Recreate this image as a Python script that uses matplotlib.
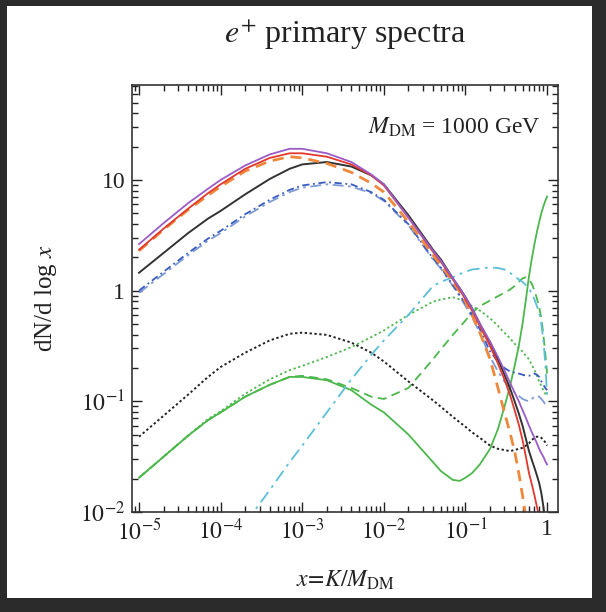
import numpy as np
import matplotlib
matplotlib.use("Agg")
import matplotlib.pyplot as plt
from matplotlib.patches import Rectangle
from matplotlib.ticker import LogLocator, FuncFormatter, NullFormatter

plt.rcParams['font.family'] = ['Liberation Serif', 'DejaVu Serif']
plt.rcParams['mathtext.fontset'] = 'stix'

nan = np.nan
x = [1e-5, 2e-5, 4e-5, 7e-5, 1e-4, 2e-4, 4e-4, 7e-4, 1e-3, 2e-3, 4e-3, 7e-3,
     1e-2, 2e-2, 4e-2, 5e-2, 7e-2, 8.5e-2, 0.1, 0.12, 0.15, 0.2, 0.25, 0.3,
     0.35, 0.4, 0.45, 0.5, 0.55, 0.6, 0.65, 0.7, 0.75, 0.8, 0.85, 0.9, 0.95, 1.0]

purple = [2.63, 4.07, 6.17, 8.32, 10.0, 13.5, 17.0, 19.1, 19.1, 17.4, 14.5, 11.2,
          9.12, 4.57, 2.29, 1.86, 1.29, 1.05, 0.871, 0.692, 0.501, 0.347, 0.251, 0.191,
          0.148, 0.120, 0.100, 0.0832, 0.0708, 0.0603, 0.0525, 0.0468, 0.0417, 0.0372,
          0.0339, 0.0316, 0.0288, 0.0269]
red = [2.34, 3.63, 5.50, 7.59, 9.12, 12.6, 15.8, 17.4, 17.4, 16.2, 13.8, 11.0,
       8.91, 4.57, 2.24, 1.82, 1.26, 1.02, 0.832, 0.661, 0.479, 0.316, 0.219, 0.158,
       0.115, 0.0832, 0.0617, 0.0447, 0.0316, 0.0224, 0.0178, 0.0141, 0.0112, 0.0089,
       nan, nan, nan, nan]
orange = [2.29, 3.55, 5.37, 7.24, 8.71, 12.0, 14.8, 16.2, 15.8, 14.1, 11.7, 9.33,
          7.76, 4.17, 2.09, 1.70, 1.20, 0.977, 0.794, 0.603, 0.417, 0.240, 0.132, 0.0794,
          0.0525, 0.0355, 0.0224, 0.0141, 0.0089, 0.005, nan, nan, nan, nan,
          nan, nan, nan, nan]
black = [1.45, 2.19, 3.31, 4.47, 5.25, 7.41, 10.2, 12.6, 13.8, 14.5, 13.2, 11.0,
         9.12, 4.79, 2.34, 1.91, 1.29, 1.05, 0.871, 0.692, 0.501, 0.339, 0.240, 0.174,
         0.132, 0.100, 0.0776, 0.0603, 0.0457, 0.0355, 0.0295, 0.0251, 0.0214, 0.0182,
         0.0148, 0.0112, 0.0079, 0.005]
blue1 = [1.0, 1.48, 2.19, 2.95, 3.47, 4.90, 6.61, 8.13, 8.91, 9.55, 9.12, 7.76,
         6.61, 3.98, 1.95, 1.62, 1.12, 0.912, 0.759, 0.603, 0.447, 0.282, 0.229, 0.200,
         0.186, 0.182, 0.178, 0.174, 0.170, 0.170, 0.174, 0.178, 0.174, 0.166,
         0.151, 0.141, 0.132, 0.126]
blue2 = [0.955, 1.41, 2.09, 2.82, 3.31, 4.68, 6.31, 7.76, 8.51, 9.12, 8.71, 7.59,
         6.46, 3.89, 1.91, 1.58, 1.10, 0.891, 0.724, 0.575, 0.417, 0.251, 0.186, 0.151,
         0.132, 0.120, 0.112, 0.105, 0.102, 0.100, 0.105, 0.110, 0.112, 0.110,
         0.105, 0.100, 0.0933, 0.0891]
black_dot = [0.0479, 0.0741, 0.115, 0.166, 0.204, 0.275, 0.355, 0.407, 0.417, 0.398,
             0.339, 0.275, 0.229, 0.151, 0.102, 0.0891, 0.0724, 0.0646, 0.0589, 0.0525,
             0.0468, 0.0398, 0.0372, 0.0363, 0.0355, 0.0363, 0.0372, 0.0380, 0.0398,
             0.0417, 0.0447, 0.0468, 0.0479, 0.0479, 0.0468, 0.0447, 0.0427, 0.0398]
green = [0.0204, 0.0316, 0.0490, 0.0676, 0.0794, 0.110, 0.141, 0.166, 0.166, 0.155,
         0.126, 0.0933, 0.0794, 0.0501, 0.0282, 0.0234, 0.0195, 0.0191, 0.0204, 0.0224,
         0.0269, 0.0372, 0.0562, 0.0891, 0.135, 0.209, 0.316, 0.501, 0.832, 1.35,
         1.95, 2.63, 3.39, 4.17, 5.01, 5.75, 6.46, 7.08]
green_dot = [0.0204, 0.0316, 0.0490, 0.0692, 0.0813, 0.117, 0.158, 0.191, 0.209, 0.251,
             0.309, 0.380, 0.437, 0.603, 0.794, 0.832, 0.871, 0.832, 0.794, 0.724,
             0.661, 0.562, 0.479, 0.417, 0.372, 0.331, 0.302, 0.282, 0.257, 0.240,
             0.214, 0.191, 0.170, 0.151, 0.138, 0.126, 0.117, 0.110]
green_dash = [0.0204, 0.0316, 0.0490, 0.0676, 0.0794, 0.110, 0.141, 0.166, 0.170, 0.158,
              0.132, 0.110, 0.105, 0.132, 0.240, 0.295, 0.398, 0.468, 0.537, 0.631,
              0.724, 0.813, 0.891, 0.955, 1.02, 1.10, 1.20, 1.29, 1.32, 1.26,
              1.15, 1.0, 0.851, 0.708, 0.562, 0.398, 0.269, 0.178]
cyan = [nan, nan, nan, nan, nan, 0.0079, 0.0158, 0.0282, 0.0398, 0.0794, 0.158, 0.263,
        0.355, 0.603, 1.10, 1.20, 1.32, 1.41, 1.48, 1.55, 1.58, 1.62, 1.60, 1.55,
        1.45, 1.35, 1.26, 1.20, 1.12, 1.05, 0.933, 0.832, 0.724, 0.631,
        0.501, 0.355, 0.224, 0.112]

fig = plt.figure(figsize=(6.06, 6.12), dpi=100)
fig.patch.set_facecolor('#2b2b2b')
fig.add_artist(Rectangle((7 / 606, 14 / 612), 585 / 606, 592 / 612,
                         transform=fig.transFigure, facecolor='white',
                         edgecolor='none', zorder=0))

ax = fig.add_axes([132 / 606, 1 - 512 / 612, 426 / 606, 427 / 612])

ax.plot(x, green, color='#4cb84c', lw=1.3)
ax.plot(x, green_dot, color='#4cb84c', lw=1.3, ls=(0, (1.2, 1.5)))
ax.plot(x, green_dash, color='#4cb84c', lw=1.3, ls=(0, (5, 3)))
ax.plot(x, cyan, color='#5bbfd8', lw=1.3, ls=(0, (7, 3, 1.5, 3)))
ax.plot(x, black_dot, color='#222222', lw=1.4, ls=(0, (1.2, 1.3)))
ax.plot(x, blue2, color='#7f9bd6', lw=1.3, ls=(0, (6, 2.5, 1.5, 2.5)))
ax.plot(x, blue1, color='#3a5bbf', lw=1.3, ls=(0, (4, 2, 1, 2)))
ax.plot(x, black, color='#333333', lw=1.4)
ax.plot(x, orange, color='#f0883c', lw=2.0, ls=(0, (4, 2.5)))
ax.plot(x, red, color='#e2382e', lw=1.3)
ax.plot(x, purple, color='#9a5cc8', lw=1.3)

ax.set_xscale('log')
ax.set_yscale('log')
ax.set_xlim(8.2e-6, 1.36)
ax.set_ylim(0.01, 72)


def fmt(v, pos):
    n = int(round(np.log10(v)))
    if n == 0:
        return '1'
    if n == 1:
        return '10'
    return r'$10^{%d}$' % n


ax.xaxis.set_major_locator(LogLocator(base=10, numticks=20))
ax.yaxis.set_major_locator(LogLocator(base=10, numticks=20))
ax.xaxis.set_minor_locator(LogLocator(base=10, subs=np.arange(2, 10), numticks=20))
ax.yaxis.set_minor_locator(LogLocator(base=10, subs=np.arange(2, 10), numticks=20))
ax.xaxis.set_major_formatter(FuncFormatter(fmt))
ax.yaxis.set_major_formatter(FuncFormatter(fmt))
ax.xaxis.set_minor_formatter(NullFormatter())
ax.yaxis.set_minor_formatter(NullFormatter())
ax.tick_params(which='both', direction='in', top=True, right=True,
               labelsize=17, colors='#222222', width=1.0)
ax.tick_params(which='major', length=7, pad=5)
ax.tick_params(which='minor', length=4)
for s in ax.spines.values():
    s.set_linewidth(1.2)
    s.set_color('#333333')

ax.text(0.958, 0.90, r'$M_{\rm DM}$ = 1000 GeV', transform=ax.transAxes,
        ha='right', va='center', fontsize=17, color='#222222')

fig.text(345 / 606, 1 - 35 / 612, r'$e^{+}$ primary spectra', ha='center',
         va='center', fontsize=23, color='#222222')
fig.text(345 / 606, 1 - 580 / 612, r'$x\!=\!K/M_{\rm DM}$', ha='center',
         va='center', fontsize=17, color='#222222')
fig.text(46 / 606, 1 - 298 / 612, r'dN/d log $x$', ha='center', va='center',
         rotation=90, fontsize=18, color='#222222')

fig.savefig('out.png', dpi=100, facecolor=fig.get_facecolor())
